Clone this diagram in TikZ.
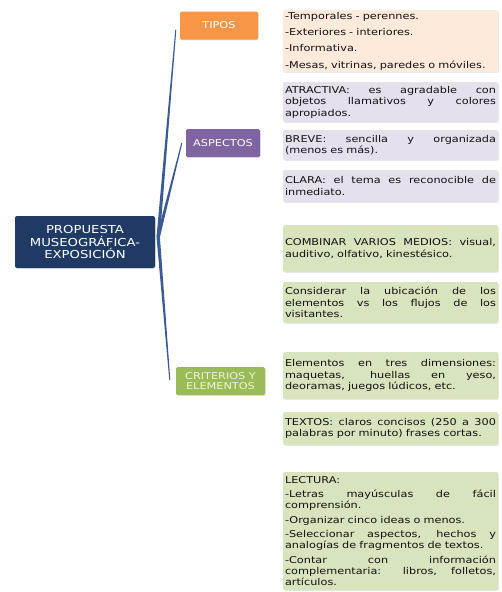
\documentclass[tikz,border=0pt]{standalone}
\usepackage{fontspec}
\setmainfont[FakeStretch=1.2]{DejaVu Sans}
\usetikzlibrary{shadows,calc}
\definecolor{navy}{HTML}{1F3A64}
\definecolor{orangebox}{HTML}{F79646}
\definecolor{purplebox}{HTML}{8064A2}
\definecolor{greenbox}{HTML}{9BBB59}
\definecolor{peach}{HTML}{FDEADA}
\definecolor{lavender}{HTML}{E5E0EC}
\definecolor{lightgreen}{HTML}{D7E4BD}
\definecolor{conncol}{HTML}{3A5C93}
\definecolor{txt}{HTML}{111111}
\definecolor{paletxt}{HTML}{EEF4DC}
\setlength{\parindent}{0pt}
\newcommand{\jl}[1]{\makebox[211pt][s]{\spaceskip=0pt\xspaceskip=0pt\relax #1}\par}
\newcommand{\taper}[2]{\fill[conncol] ($(#1)!1.7pt!90:(#2)$) -- ($(#2)!0.5pt!-90:(#1)$) -- ($(#2)!0.5pt!90:(#1)$) -- ($(#1)!1.7pt!-90:(#2)$) -- cycle;}
\begin{document}
\begin{tikzpicture}[x=1pt,y=-1pt,
  softshadow/.style={drop shadow={opacity=0.18,shadow xshift=0.8pt,shadow yshift=-0.8pt}},
  mainbox/.style={rounded corners=2pt,fill=navy,text=white,minimum width=140pt,minimum height=52pt,
    align=center,font=\fontsize{11}{12.5}\selectfont,inner sep=0pt,softshadow},
  catbox/.style={rounded corners=1.5pt,minimum height=28pt,text=white,
    font=\fontsize{9.4}{10.5}\selectfont,align=center,inner sep=0pt,softshadow},
  infobox/.style={rounded corners=2pt,text width=211pt,inner xsep=2pt,inner ysep=0pt,
    align=left,font=\fontsize{9.4}{11.5}\selectfont,text=txt,softshadow}]
\path[use as bounding box,fill=white] (0,0) rectangle (502,592);

% main node
\node[mainbox] (root) at (85,242) {PROPUESTA\\MUSEOGRÁFICA-\\EXPOSICIÓN};

% category nodes
\node[catbox,fill=orangebox,minimum width=78pt] (tipos) at (219,25.5) {TIPOS};
\node[catbox,fill=purplebox,minimum width=74pt] (aspectos) at (223,143) {ASPECTOS};
\node[catbox,fill=greenbox,minimum width=89pt,text=paletxt] (crit) at (220.5,381) {CRITERIOS Y\\ELEMENTOS};

% info boxes
\node[infobox,fill=peach,minimum height=62pt,font=\fontsize{9.4}{16.3}\selectfont] (t1) at (390.5,41)
  {-Temporales - perennes.\par -Exteriores - interiores.\par -Informativa.\par -Mesas, vitrinas, paredes o móviles.};
\node[infobox,fill=lavender,minimum height=40pt] (a1) at (390.5,102)
  {\jl{ATRACTIVA: es agradable con}\jl{objetos llamativos y colores}apropiados.};
\node[infobox,fill=lavender,minimum height=30pt] (a2) at (390.5,145)
  {\jl{BREVE: sencilla y organizada}(menos es más).};
\node[infobox,fill=lavender,minimum height=32pt] (a3) at (390.5,186)
  {\jl{CLARA: el tema es reconocible de}inmediato.};
\node[infobox,fill=lightgreen,minimum height=47pt] (c1) at (390.5,248.5)
  {\jl{COMBINAR VARIOS MEDIOS: visual,}auditivo, olfativo, kinestésico.};
\node[infobox,fill=lightgreen,minimum height=41pt] (c2) at (390.5,302.5)
  {\jl{Considerar la ubicación de los}\jl{elementos vs los flujos de los}visitantes.};
\node[infobox,fill=lightgreen,minimum height=47pt] (c3) at (390.5,375.5)
  {\jl{Elementos en tres dimensiones:}\jl{maquetas, huellas en yeso,}deoramas, juegos lúdicos, etc.};
\node[infobox,fill=lightgreen,minimum height=33pt] (c4) at (390.5,428.5)
  {\jl{TEXTOS: claros concisos (250 a 300}palabras por minuto) frases cortas.};
\node[infobox,fill=lightgreen,minimum height=118pt,font=\fontsize{9.4}{11}\selectfont] (c5) at (390.5,531)
  {LECTURA:\par\vspace{3.5pt}
   \jl{-Letras mayúsculas de fácil}comprensión.\par\vspace{3.5pt}
   -Organizar cinco ideas o menos.\par\vspace{3.5pt}
   \jl{-Seleccionar aspectos, hechos y}analogías de fragmentos de textos.\par\vspace{3.5pt}
   \jl{-Contar con información}\jl{complementaria: libros, folletos,}artículos.};

% connectors (tapered branches)
\coordinate (j) at ($(root.east)+(3,-5)$);
\coordinate (jt) at ($(tipos.south west)+(-4,-10)$);
\coordinate (ja) at ($(aspectos.west)+(-4,0)$);
\coordinate (jc) at ($(crit.west)+(-6,-1)$);
\taper{j}{jt}
\taper{j}{ja}
\taper{j}{jc}
\end{tikzpicture}
\end{document}
